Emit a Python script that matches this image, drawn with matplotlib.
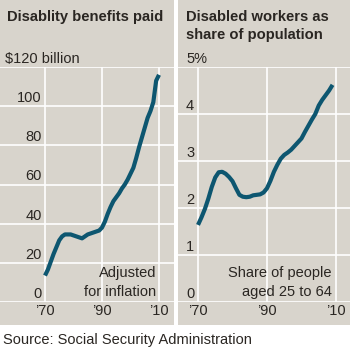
import matplotlib
matplotlib.use("Agg")
import matplotlib.pyplot as plt
import matplotlib.transforms as mtrans

# Disability benefits paid, billions of dollars (adjusted for inflation)
years_paid = list(range(1970, 2011))
benefits_paid = [13.5, 16.5, 20.5, 24.5, 28.0, 31.5, 33.5, 34.5, 34.5, 34.5,
                 34.0, 33.5, 33.0, 32.5, 33.5, 34.5, 35.0, 35.5, 36.0, 36.5,
                 38.0, 41.0, 45.0, 48.5, 51.5, 53.5, 55.5, 58.0, 60.0, 62.5,
                 65.5, 68.5, 73.5, 79.0, 84.0, 89.0, 94.0, 97.5, 102.0, 113.0,
                 116.0]

# Disabled workers as share of people aged 25 to 64, percent
years_share = list(range(1970, 2010))
share_pct = [1.64, 1.80, 1.98, 2.20, 2.45, 2.65, 2.76, 2.77, 2.73, 2.66,
             2.57, 2.42, 2.28, 2.24, 2.23, 2.24, 2.27, 2.28, 2.29, 2.33,
             2.42, 2.58, 2.77, 2.92, 3.05, 3.13, 3.18, 3.24, 3.32, 3.40,
             3.48, 3.62, 3.75, 3.88, 4.00, 4.18, 4.30, 4.40, 4.50, 4.62]

paid_ticks = [0, 20, 40, 60, 80, 100, 120]
share_ticks = [0, 1, 2, 3, 4, 5]
decade_ticks = [1970, 1990, 2010]
decade_labels = ["\u201970", "\u201990", "\u201910"]

W = H = 350
BG = "#d8d4cc"
INK = "#2a2622"
TEAL = "#0d5670"

plt.rcParams['font.family'] = ['Liberation Sans', 'DejaVu Sans']

fig = plt.figure(figsize=(3.5, 3.5), dpi=100)
fig.patch.set_facecolor('white')

def fx(px):
    return px / W

def fy(py):
    return 1 - py / H

# gray panel backgrounds (behind the axes)
for x0, x1 in [(0, 174), (178, 350)]:
    fig.patches.append(plt.Rectangle((fx(x0), fy(325)), fx(x1 - x0), 325 / H,
                                     transform=fig.transFigure, facecolor=BG,
                                     edgecolor='none', zorder=-5))

def make_panel(left_px, right_px, x70_px, x10_px, ymax, ticks, years, values):
    ppy = (x10_px - x70_px) / 40.0
    ax = fig.add_axes([fx(left_px), fy(302), fx(right_px - left_px), 235 / H])
    ax.set_zorder(2)
    ax.set_xlim(1970 - (x70_px - left_px) / ppy, 1970 + (right_px - x70_px) / ppy)
    ax.set_ylim(0, ymax)
    ax.set_axis_off()
    for t in ticks:
        ax.axhline(t, color='white', lw=1.2, zorder=1)
    for d in decade_ticks:
        ax.axvline(d, color='white', lw=1.2, zorder=1)
    ax.plot(years, values, color=TEAL, lw=3.0, solid_capstyle='butt',
            solid_joinstyle='round', zorder=3, clip_on=False)
    # decade labels below plot
    trans_x = mtrans.blended_transform_factory(ax.transData, fig.transFigure)
    for d, lab in zip(decade_ticks, decade_labels):
        ax.text(d, fy(311), lab, transform=trans_x, ha='center', va='center',
                fontsize=10.5, color=INK, clip_on=False)
    return ax

ax1 = make_panel(0, 174, 45, 159, 120, paid_ticks, years_paid, benefits_paid)
ax2 = make_panel(178, 350, 198, 336, 5, share_ticks, years_share, share_pct)

# y tick labels, sitting just above gridlines
t1 = mtrans.offset_copy(mtrans.blended_transform_factory(fig.transFigure, ax1.transData),
                        fig=fig, x=0, y=4, units='dots')
for v in paid_ticks:
    if v == paid_ticks[-1]:
        ax1.text(fx(5), v, "\\$%d billion" % v, transform=t1, ha='left',
                 va='baseline', fontsize=10.5, color=INK, clip_on=False)
    else:
        ax1.text(fx(42), v, "%d" % v, transform=t1, ha='right', va='baseline',
                 fontsize=10.5, color=INK, clip_on=False)

t2 = mtrans.offset_copy(mtrans.blended_transform_factory(fig.transFigure, ax2.transData),
                        fig=fig, x=0, y=4, units='dots')
for v in share_ticks:
    lab = "%d%%" % v if v == share_ticks[-1] else "%d" % v
    ax2.text(fx(186), v, lab, transform=t2, ha='left', va='baseline',
             fontsize=10.5, color=INK, clip_on=False)

# titles
fig.text(fx(7), fy(17), "Disablity benefits paid", ha='left', va='center',
         fontsize=10.6, fontweight='bold', color=INK)
fig.text(fx(186), fy(17), "Disabled workers as", ha='left', va='center',
         fontsize=10.6, fontweight='bold', color=INK)
fig.text(fx(186), fy(35), "share of population", ha='left', va='center',
         fontsize=10.6, fontweight='bold', color=INK)

# notes
fig.text(fx(156), fy(273), "Adjusted", ha='right', va='center', fontsize=10.5, color=INK)
fig.text(fx(156), fy(292), "for inflation", ha='right', va='center', fontsize=10.5, color=INK)
fig.text(fx(332), fy(273), "Share of people", ha='right', va='center', fontsize=10.5, color=INK)
fig.text(fx(332), fy(292), "aged 25 to 64", ha='right', va='center', fontsize=10.5, color=INK)

# source
fig.text(fx(3), fy(340), "Source: Social Security Administration", ha='left',
         va='center', fontsize=10.5, color=INK)

fig.savefig("out.png", dpi=100, facecolor='white')
